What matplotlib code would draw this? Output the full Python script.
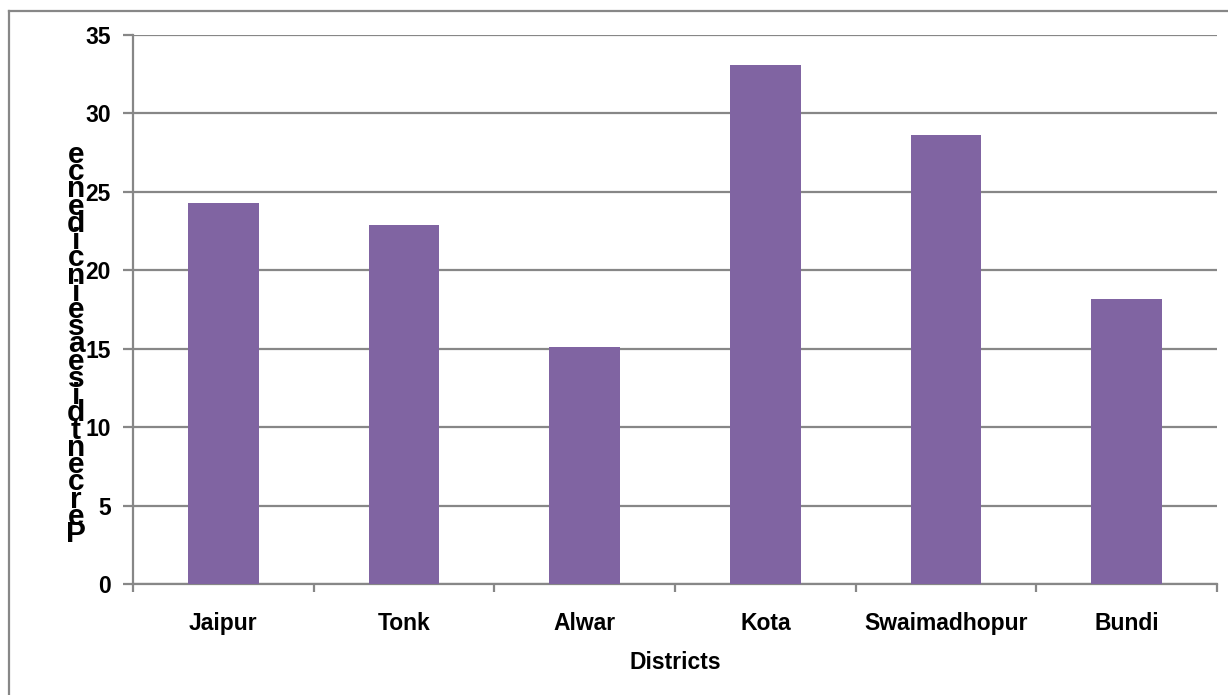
import matplotlib
matplotlib.use("Agg")
import matplotlib.pyplot as plt
import numpy as np

# === Data ===
districts = ["Jaipur", "Tonk", "Alwar", "Kota", "Swaimadhopur", "Bundi"]
incidence = [24.3, 22.9, 15.1, 33.1, 28.6, 18.2]
y_ticks = [0, 5, 10, 15, 20, 25, 30, 35]
y_label = "Percentdiseaseincidence"
x_label = "Districts"

bar_color = "#8064A2"
grid_color = "#878787"

plt.rcParams['font.family'] = ['Liberation Sans', 'DejaVu Sans']
plt.rcParams['font.weight'] = 'bold'

W, H = 1228, 695
fig = plt.figure(figsize=(W / 100, H / 100), dpi=100)
ax = fig.add_axes([133 / W, 1 - 584 / H, (1217 - 133) / W, (584 - 35) / H])

x = np.arange(len(districts))
ax.bar(x, incidence, width=0.39, color=bar_color, zorder=3)

ax.set_xlim(-0.5, len(districts) - 0.5)
ax.set_ylim(0, 35)

# horizontal gridlines
ax.set_yticks(y_ticks)
ax.yaxis.grid(True, color=grid_color, linewidth=1.6, zorder=0)
ax.tick_params(axis='y', length=7, width=1.6, color=grid_color, pad=9,
               labelsize=16.5)

# x ticks at category boundaries, labels at centres
ax.set_xticks(np.arange(-0.5, len(districts), 1.0))
ax.set_xticklabels([])
ax.set_xticks(x, minor=True)
ax.set_xticklabels(districts, minor=True)
ax.tick_params(axis='x', which='major', length=6, width=1.6, color=grid_color)
ax.tick_params(axis='x', which='minor', length=0, pad=20, labelsize=16.5)

for side in ['top', 'right']:
    ax.spines[side].set_visible(False)
for side in ['left', 'bottom']:
    ax.spines[side].set_color(grid_color)
    ax.spines[side].set_linewidth(1.6)

ax.set_xlabel(x_label, fontsize=16.5, fontweight='bold', labelpad=12)

# stacked y label, upright letters squeezed together, bottom to top
n = len(y_label)
base_bot, base_top = 542, 163
for i, ch in enumerate(y_label):
    py = base_bot - i * (base_bot - base_top) / (n - 1)
    fig.text(76 / W, 1 - py / H, ch, ha='center', va='baseline',
             fontsize=21.5, fontweight='bold')

# outer chart border
fig.add_artist(plt.Line2D([9 / W, 9 / W], [0, 1 - 11 / H],
                          color=grid_color, linewidth=1.6))
fig.add_artist(plt.Line2D([9 / W, 1], [1 - 11 / H, 1 - 11 / H],
                          color=grid_color, linewidth=1.6))

fig.savefig("out.png", dpi=100)
